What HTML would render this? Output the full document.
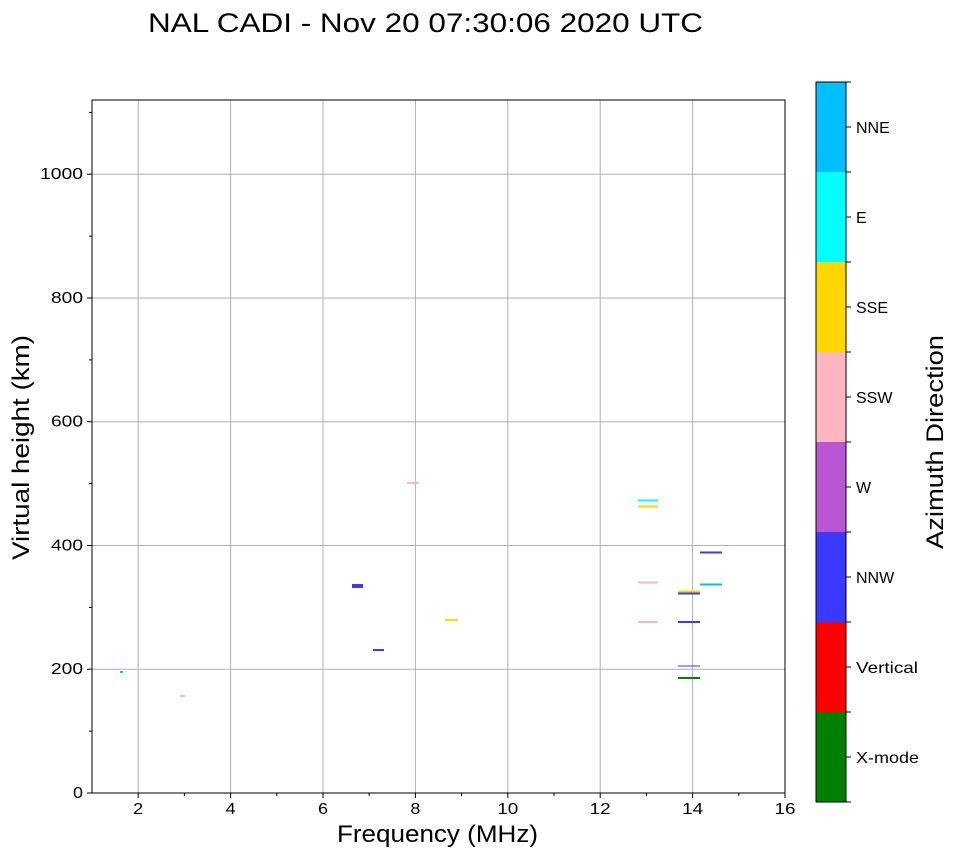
<!DOCTYPE html>
<html><head><meta charset="utf-8"><style>body{margin:0;background:#fff}svg{display:block}text{font-family:"Liberation Sans",sans-serif}</style></head><body>
<svg width="958" height="857" xmlns="http://www.w3.org/2000/svg">
<text x="148" y="32" font-size="27" textLength="555" lengthAdjust="spacingAndGlyphs">NAL CADI - Nov 20 07:30:06 2020 UTC</text>
<g stroke="#b0b0b0" stroke-width="1">
<line x1="138.2" y1="100" x2="138.2" y2="793"/><line x1="230.6" y1="100" x2="230.6" y2="793"/><line x1="323" y1="100" x2="323" y2="793"/><line x1="415.4" y1="100" x2="415.4" y2="793"/><line x1="507.8" y1="100" x2="507.8" y2="793"/><line x1="600.2" y1="100" x2="600.2" y2="793"/><line x1="692.6" y1="100" x2="692.6" y2="793"/>
<line x1="92" y1="669.2" x2="785" y2="669.2"/><line x1="92" y1="545.5" x2="785" y2="545.5"/><line x1="92" y1="421.7" x2="785" y2="421.7"/><line x1="92" y1="298" x2="785" y2="298"/><line x1="92" y1="174.2" x2="785" y2="174.2"/>
</g>
<g>
<rect x="638" y="499.5" width="20" height="2" fill="#00ffff"/>
<rect x="638" y="505.5" width="20" height="2" fill="#ffd700"/>
<rect x="700" y="551.5" width="22" height="2" fill="#3a3aff"/>
<rect x="700" y="583.5" width="22" height="2" fill="#00bfff"/>
<rect x="638" y="581.5" width="20" height="2" fill="#ffb6c1"/>
<rect x="678" y="590.5" width="22" height="2" fill="#ffd700"/>
<rect x="678" y="592.5" width="22" height="2" fill="#3a3aff"/>
<rect x="638" y="621" width="20" height="2" fill="#ffb6c1"/>
<rect x="678" y="621" width="22" height="2" fill="#3a3aff"/>
<rect x="678" y="665.5" width="22" height="1" fill="#3a3aff"/>
<rect x="678" y="677" width="22" height="2" fill="#008000"/>
<rect x="407" y="482" width="12" height="2" fill="#ffb6c1"/>
<rect x="352" y="584" width="11" height="4" fill="#3a3aff"/>
<rect x="445" y="619" width="13" height="2" fill="#ffd700"/>
<rect x="373" y="649" width="11" height="2" fill="#3a3aff"/>
<rect x="120" y="671" width="3" height="2" fill="#00bfff"/>
<rect x="180" y="695" width="5" height="2" fill="#ffb6c1"/>
</g>
<rect x="92" y="100" width="693" height="693" fill="none" stroke="#000" stroke-width="1"/>
<g stroke="#000" stroke-width="1">
<line x1="138.2" y1="793" x2="138.2" y2="798"/><line x1="230.6" y1="793" x2="230.6" y2="798"/><line x1="323" y1="793" x2="323" y2="798"/><line x1="415.4" y1="793" x2="415.4" y2="798"/><line x1="507.8" y1="793" x2="507.8" y2="798"/><line x1="600.2" y1="793" x2="600.2" y2="798"/><line x1="692.6" y1="793" x2="692.6" y2="798"/><line x1="785" y1="793" x2="785" y2="798"/>
<line x1="184.4" y1="793" x2="184.4" y2="796"/><line x1="276.8" y1="793" x2="276.8" y2="796"/><line x1="369.2" y1="793" x2="369.2" y2="796"/><line x1="461.6" y1="793" x2="461.6" y2="796"/><line x1="554" y1="793" x2="554" y2="796"/><line x1="646.4" y1="793" x2="646.4" y2="796"/><line x1="738.8" y1="793" x2="738.8" y2="796"/>
<line x1="87" y1="793" x2="92" y2="793"/><line x1="87" y1="669.2" x2="92" y2="669.2"/><line x1="87" y1="545.5" x2="92" y2="545.5"/><line x1="87" y1="421.7" x2="92" y2="421.7"/><line x1="87" y1="298" x2="92" y2="298"/><line x1="87" y1="174.2" x2="92" y2="174.2"/>
<line x1="89" y1="731.1" x2="92" y2="731.1"/><line x1="89" y1="607.4" x2="92" y2="607.4"/><line x1="89" y1="483.6" x2="92" y2="483.6"/><line x1="89" y1="359.9" x2="92" y2="359.9"/><line x1="89" y1="236.1" x2="92" y2="236.1"/><line x1="89" y1="112.4" x2="92" y2="112.4"/>
</g>
<g font-size="16" text-anchor="middle">
<text x="138.2" y="814" textLength="10" lengthAdjust="spacingAndGlyphs">2</text><text x="230.6" y="814" textLength="10" lengthAdjust="spacingAndGlyphs">4</text><text x="323" y="814" textLength="10" lengthAdjust="spacingAndGlyphs">6</text><text x="415.4" y="814" textLength="10" lengthAdjust="spacingAndGlyphs">8</text><text x="507.8" y="814" textLength="21" lengthAdjust="spacingAndGlyphs">10</text><text x="600.2" y="814" textLength="21" lengthAdjust="spacingAndGlyphs">12</text><text x="692.6" y="814" textLength="21" lengthAdjust="spacingAndGlyphs">14</text><text x="785" y="814" textLength="21" lengthAdjust="spacingAndGlyphs">16</text>
</g>
<g font-size="16" text-anchor="end">
<text x="83" y="798" textLength="10" lengthAdjust="spacingAndGlyphs">0</text><text x="83" y="674" textLength="32" lengthAdjust="spacingAndGlyphs">200</text><text x="83" y="550.5" textLength="32" lengthAdjust="spacingAndGlyphs">400</text><text x="83" y="426.7" textLength="32" lengthAdjust="spacingAndGlyphs">600</text><text x="83" y="303" textLength="32" lengthAdjust="spacingAndGlyphs">800</text><text x="83" y="179.2" textLength="43" lengthAdjust="spacingAndGlyphs">1000</text>
</g>
<text x="337" y="842" font-size="24" textLength="201" lengthAdjust="spacingAndGlyphs">Frequency (MHz)</text>
<text transform="translate(29,560) rotate(-90)" font-size="24" textLength="225" lengthAdjust="spacingAndGlyphs">Virtual height (km)</text>
<rect x="816" y="82" width="30" height="90" fill="#00bfff"/>
<rect x="816" y="172" width="30" height="90" fill="#00ffff"/>
<rect x="816" y="262" width="30" height="90" fill="#ffd700"/>
<rect x="816" y="352" width="30" height="90" fill="#ffb6c1"/>
<rect x="816" y="442" width="30" height="90" fill="#ba55d3"/>
<rect x="816" y="532" width="30" height="90" fill="#3a3aff"/>
<rect x="816" y="622" width="30" height="90" fill="#ff0000"/>
<rect x="816" y="712" width="30" height="90" fill="#008000"/>
<g font-size="16">
<text x="856" y="133">NNE</text><text x="856" y="223">E</text><text x="856" y="313">SSE</text><text x="856" y="403">SSW</text><text x="856" y="493">W</text><text x="856" y="583">NNW</text><text x="856" y="673" textLength="62" lengthAdjust="spacingAndGlyphs">Vertical</text><text x="856" y="763" textLength="63" lengthAdjust="spacingAndGlyphs">X-mode</text>
</g>
<g stroke="#000"><line x1="846" y1="127" x2="851" y2="127"/><line x1="846" y1="217" x2="851" y2="217"/><line x1="846" y1="307" x2="851" y2="307"/><line x1="846" y1="397" x2="851" y2="397"/><line x1="846" y1="487" x2="851" y2="487"/><line x1="846" y1="577" x2="851" y2="577"/><line x1="846" y1="667" x2="851" y2="667"/><line x1="846" y1="757" x2="851" y2="757"/>
<line x1="846" y1="82" x2="851" y2="82"/><line x1="846" y1="172" x2="851" y2="172"/><line x1="846" y1="262" x2="851" y2="262"/><line x1="846" y1="352" x2="851" y2="352"/><line x1="846" y1="442" x2="851" y2="442"/><line x1="846" y1="532" x2="851" y2="532"/><line x1="846" y1="622" x2="851" y2="622"/><line x1="846" y1="712" x2="851" y2="712"/><line x1="846" y1="802" x2="851" y2="802"/></g>
<rect x="816" y="82" width="30" height="720" fill="none" stroke="#000" stroke-width="1"/>
<text transform="translate(943,549) rotate(-90)" font-size="24" textLength="214" lengthAdjust="spacingAndGlyphs">Azimuth Direction</text>
</svg>
</body></html>
